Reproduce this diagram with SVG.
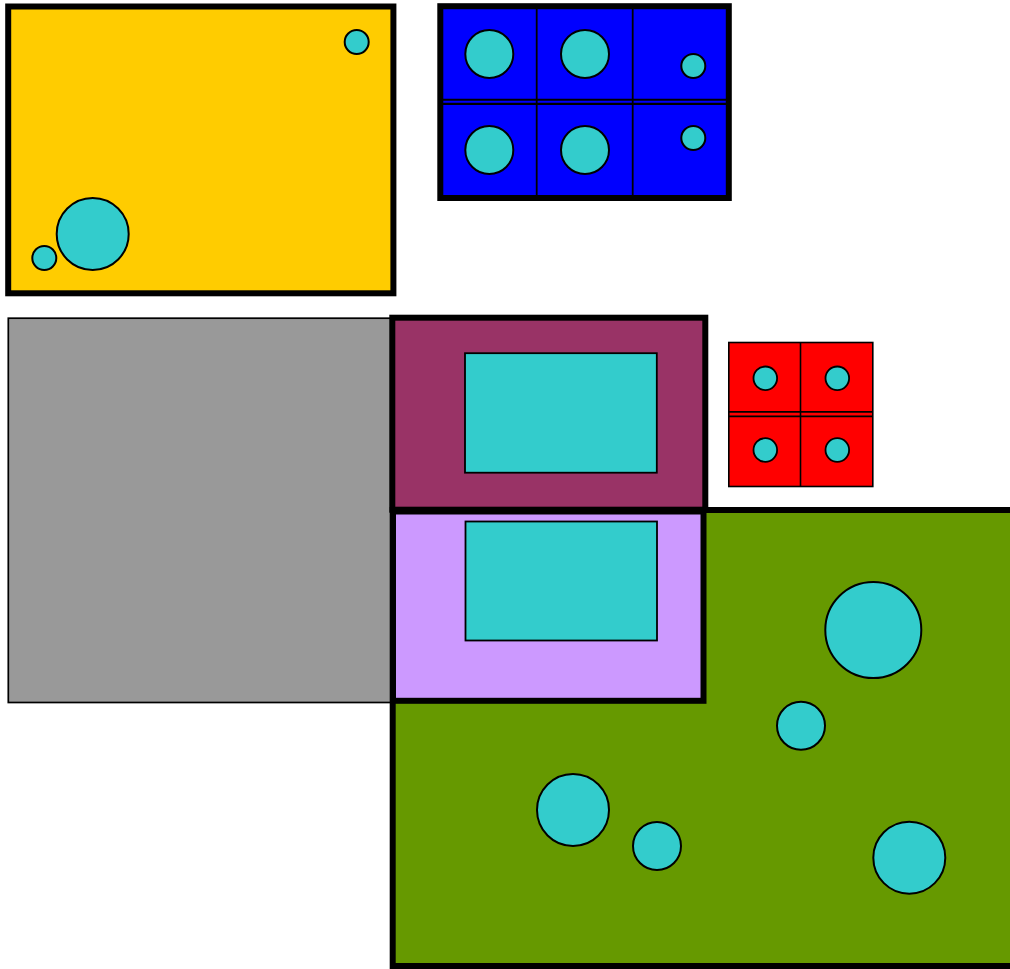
<svg xmlns="http://www.w3.org/2000/svg" width="1010" height="969" viewBox="0 0 1010 969">
<style>
.c{fill:#33cccc;stroke:#000;stroke-width:2}
.cr{fill:#33cccc;stroke:#000;stroke-width:1.8}
.thick{stroke:#000;stroke-width:6}
.ln{stroke:#000;fill:none}
</style>
<rect width="1010" height="969" fill="#fff"/>
<g id="gray">
<rect x="8.3" y="318.2" width="384" height="384.3" fill="#999999" stroke="#000" stroke-width="1.7"/>
</g>
<g id="yellow">
<rect x="8.2" y="6.5" width="385.2" height="286.8" fill="#ffcc00" class="thick" stroke-width="5.5"/>
<circle class="c" cx="356.7" cy="42" r="12"/>
<circle class="c" cx="92.7" cy="234" r="36"/>
<circle class="c" cx="44.3" cy="258" r="12"/>
</g>
<g id="blue">
<rect x="440.3" y="6.2" width="288.5" height="191.8" fill="#0000ff" class="thick"/>
<line class="ln" x1="536.7" y1="9" x2="536.7" y2="195" stroke-width="1.8"/>
<line class="ln" x1="632.7" y1="9" x2="632.7" y2="195" stroke-width="1.8"/>
<line class="ln" x1="443" y1="99.7" x2="726" y2="99.7" stroke-width="2"/>
<line class="ln" x1="443" y1="103.8" x2="726" y2="103.8" stroke-width="2.2"/>
<circle class="c" cx="489.3" cy="54" r="24"/>
<circle class="c" cx="585" cy="54" r="24"/>
<circle class="c" cx="693.3" cy="66" r="12"/>
<circle class="c" cx="489.3" cy="150" r="24"/>
<circle class="c" cx="585" cy="150" r="24"/>
<circle class="c" cx="693.3" cy="138" r="12"/>
</g>
<g id="red">
<rect x="728.8" y="342.5" width="144" height="144" fill="#ff0000" stroke="#000" stroke-width="1.6"/>
<line class="ln" x1="800.5" y1="342.5" x2="800.5" y2="486.5" stroke-width="1.6"/>
<line class="ln" x1="728.8" y1="411.8" x2="872.8" y2="411.8" stroke-width="1.8"/>
<line class="ln" x1="728.8" y1="416.3" x2="872.8" y2="416.3" stroke-width="1.8"/>
<circle class="cr" cx="765.3" cy="378.3" r="11.8"/>
<circle class="cr" cx="837.3" cy="378.3" r="11.8"/>
<circle class="cr" cx="765.3" cy="450" r="11.8"/>
<circle class="cr" cx="837.3" cy="450" r="11.8"/>
</g>
<g id="green">
<rect x="392.7" y="510" width="700" height="456" fill="#669900" class="thick" stroke-width="6.5"/>
<circle class="c" cx="873.3" cy="630" r="48"/>
<circle class="c" cx="801" cy="725.7" r="24"/>
<circle class="c" cx="573" cy="810" r="36"/>
<circle class="c" cx="657" cy="846" r="24"/>
<circle class="c" cx="909.3" cy="857.7" r="36"/>
</g>
<g id="magenta">
<rect x="392.3" y="317.7" width="313" height="192" fill="#993366" class="thick" stroke-width="6.5"/>
<rect x="465" y="353.2" width="191.8" height="119.5" fill="#33cccc" stroke="#000" stroke-width="1.8"/>
</g>
<g id="lavender">
<rect x="393" y="511.5" width="310.5" height="189.3" fill="#cc99ff" class="thick" stroke-width="5.5"/>
<rect x="465.5" y="521.5" width="191.5" height="119" fill="#33cccc" stroke="#000" stroke-width="1.8"/>
</g>
<g id="connectors"></g>
</svg>
